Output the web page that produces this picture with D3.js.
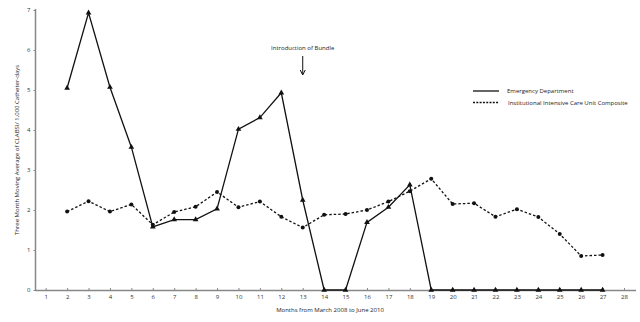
<!DOCTYPE html>
<html><head><meta charset="utf-8">
<script src="https://cdn.jsdelivr.net/npm/d3@7"></script>
<style>body{margin:0;background:#fff}svg{display:block}text{font-family:"Open Sans",sans-serif}</style>
</head><body><svg id="c" width="640" height="322"></svg>
<script>
const months = d3.range(1, 29);
const edMonths = [2,3,4,5,6,7,8,9,10,11,12,13,14,15,16,17,18,19,20,21,22,23,24,25,26,27];
const edValues = [5.05,6.93,5.07,3.57,1.58,1.76,1.76,2.03,4.02,4.31,4.93,2.25,0,0,1.69,2.07,2.63,0,0,0,0,0,0,0,0,0];
const icuMonths = [2,3,4,5,6,7,8,9,10,11,12,13,14,15,16,17,18,19,20,21,22,23,24,25,26,27];
const icuValues = [1.96,2.22,1.96,2.14,1.63,1.95,2.08,2.45,2.07,2.21,1.83,1.56,1.88,1.90,2.0,2.21,2.47,2.78,2.15,2.17,1.83,2.02,1.825,1.4,0.85,0.875];
const yTicks = [0,1,2,3,4,5,6,7];
const seriesNames = ["Emergency Department","Institutional Intensive Care Unit Composite"];
const annotationText = "Introduction of Bundle";
const annotationMonth = 13;

const svg = d3.select("#c");
const x = d3.scaleLinear().domain([1,28]).range([45.7,624]);
const y = d3.scaleLinear().domain([0,7]).range([290,10]);
const axisColor = "#888";

// x axis
const xa = svg.append("g").attr("transform","translate(0,290)")
  .call(d3.axisBottom(x).tickValues(months).tickFormat(d3.format("d")).tickSize(2).tickPadding(3));
xa.select(".domain").attr("d","M35.5,0.5H636").attr("stroke",axisColor).attr("stroke-width",1.5);
xa.selectAll(".tick line").attr("stroke",axisColor).attr("y1",-2).attr("y2",1);
xa.selectAll(".tick text").attr("font-size",6).attr("fill","#333").attr("font-family","Open Sans");

// y axis
const ya = svg.append("g").attr("transform","translate(35.5,0)")
  .call(d3.axisLeft(y).tickValues(yTicks).tickFormat(d3.format("d")).tickSize(2).tickPadding(3));
ya.select(".domain").attr("d","M0,291V9").attr("stroke",axisColor).attr("stroke-width",1.5);
ya.selectAll(".tick line").attr("stroke",axisColor);
ya.selectAll(".tick text").attr("font-size",6).attr("fill","#333").attr("font-family","Open Sans");

// titles
svg.append("text").attr("x",330).attr("y",312).attr("text-anchor","middle")
  .attr("font-size",6).attr("fill","#222").text("Months from March 2008 to June 2010");
svg.append("text").attr("transform","translate(19,150) rotate(-90)").attr("text-anchor","middle")
  .attr("font-size",6).attr("fill","#222").text("Three Month Moving Average of CLABSI/ 1,000 Catheter-days");

const line = d3.line().x(d=>x(d[0])).y(d=>y(d[1]));
const ed = edMonths.map((m,i)=>[m,edValues[i]]);
const icu = icuMonths.map((m,i)=>[m,icuValues[i]]);

svg.append("path").datum(icu).attr("d",line).attr("fill","none").attr("stroke","#111")
  .attr("stroke-width",1.3).attr("stroke-dasharray","2.5,2");
svg.append("path").datum(ed).attr("d",line).attr("fill","none").attr("stroke","#111")
  .attr("stroke-width",1.3);

svg.append("g").selectAll("circle").data(icu).join("circle")
  .attr("cx",d=>x(d[0])).attr("cy",d=>y(d[1])).attr("r",2).attr("fill","#111");
const tri = d3.symbol().type(d3.symbolTriangle).size(14);
svg.append("g").selectAll("path").data(ed).join("path")
  .attr("transform",d=>`translate(${x(d[0])},${y(d[1])})`).attr("d",tri).attr("fill","#111");

// annotation
const ax = x(annotationMonth);
svg.append("text").attr("x",ax).attr("y",50).attr("text-anchor","middle")
  .attr("font-size",6).attr("fill","#222").text(annotationText);
svg.append("line").attr("x1",ax).attr("x2",ax).attr("y1",56).attr("y2",74).attr("stroke","#111").attr("stroke-width",1);
svg.append("path").attr("d",`M${ax-2.5},70L${ax},75L${ax+2.5},70`).attr("fill","none").attr("stroke","#111").attr("stroke-width",1);

// legend
const lg = svg.append("g");
lg.append("line").attr("x1",473).attr("x2",499).attr("y1",91).attr("y2",91).attr("stroke","#111").attr("stroke-width",1.3);
lg.append("text").attr("x",507).attr("y",93).attr("font-size",6).attr("fill","#222").text(seriesNames[0]);
lg.append("line").attr("x1",473).attr("x2",499).attr("y1",102.5).attr("y2",102.5).attr("stroke","#111").attr("stroke-width",1.3).attr("stroke-dasharray","2,1.3");
lg.append("text").attr("x",508).attr("y",104.5).attr("font-size",6).attr("fill","#222").text(seriesNames[1]);
</script></body></html>
